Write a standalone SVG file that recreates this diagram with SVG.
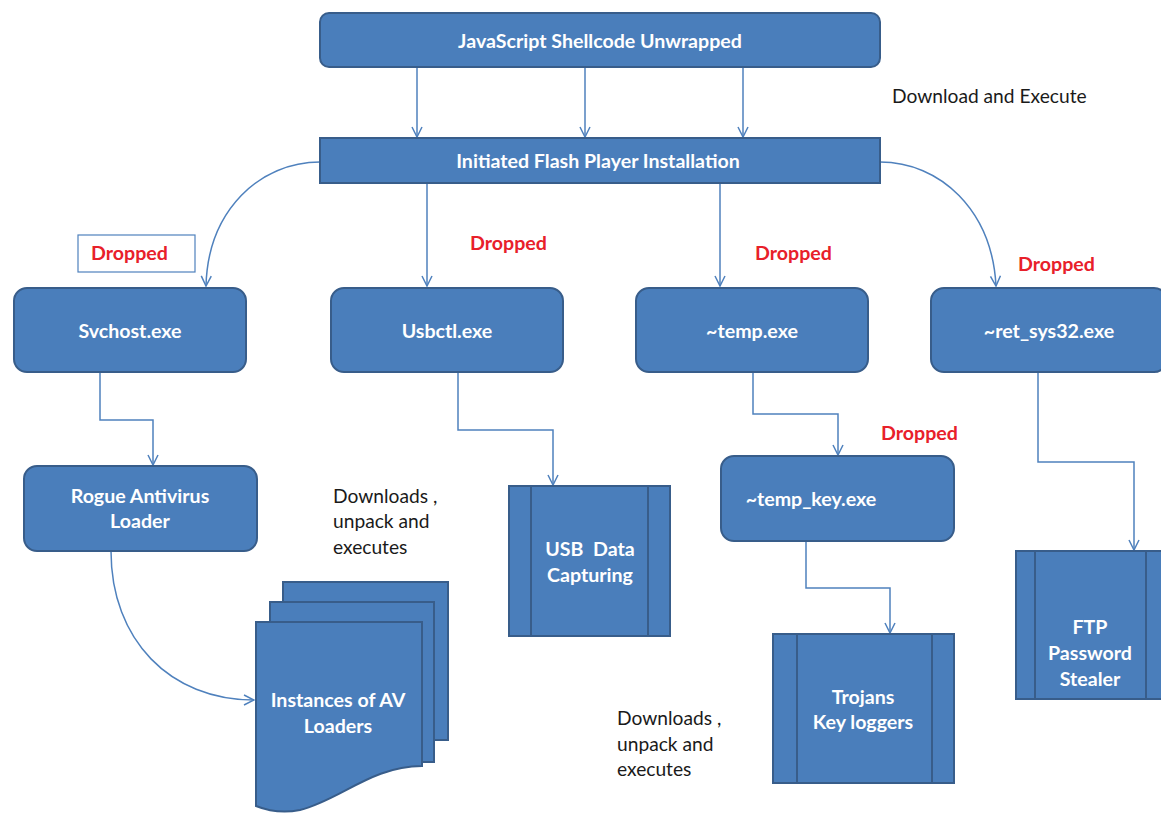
<svg xmlns="http://www.w3.org/2000/svg" width="1161" height="814" viewBox="0 0 1161 814">
<defs>
<marker id="arr" viewBox="0 0 12 12" refX="11" refY="6" markerWidth="12" markerHeight="12" markerUnits="userSpaceOnUse" orient="auto">
<path d="M1,1 L11,6 L1,11" fill="none" stroke="#4F81BD" stroke-width="1.5"/>
</marker>
</defs>
<style>
.box{fill:#4A7EBB;stroke:#385D8A;stroke-width:2}
.ln{fill:none;stroke:#385D8A;stroke-width:2}
.t{font-family:Lato,"Liberation Sans",sans-serif;font-weight:bold;font-size:19.6px;fill:#FFFFFF;text-anchor:middle}
.lbl{font-family:Lato,"Liberation Sans",sans-serif;font-size:19.2px;fill:#1a1a1a}
.drop{font-family:Lato,"Liberation Sans",sans-serif;font-weight:bold;font-size:19.6px;fill:#E8202A}
.c{fill:none;stroke:#4F81BD;stroke-width:1.5;marker-end:url(#arr)}
</style>
<rect width="1161" height="814" fill="#FFFFFF"/>

<g id="connectors">
<path class="c" d="M417,67 V137"/>
<path class="c" d="M585,67 V137"/>
<path class="c" d="M743,67 V137"/>
<path class="c" d="M320,162 C260,162 208,210 206,286"/>
<path class="c" d="M880,162 C940,162 992,210 996,286"/>
<path class="c" d="M427,183 V286"/>
<path class="c" d="M720,183 V286"/>
<path class="c" d="M100,372 V420 H153 V465"/>
<path class="c" d="M458,372 V430 H553 V485"/>
<path class="c" d="M753,372 V414 H838 V455"/>
<path class="c" d="M1038,372 V462 H1134 V550"/>
<path class="c" d="M806,541 V588 H890 V633"/>
<path class="c" d="M111,551 C111,640 170,700 254,700"/>
</g>

<g id="node-js">
<rect class="box" x="320" y="13" width="560" height="54" rx="9"/>
<text class="t" x="600" y="48">JavaScript Shellcode Unwrapped</text>
</g>
<g id="node-flash">
<rect class="box" x="320" y="138" width="560" height="45"/>
<text class="t" x="598" y="168">Initiated Flash Player Installation</text>
</g>
<g id="label-download">
<text class="lbl" x="892" y="103">Download and Execute</text>
</g>

<g id="drop1">
<rect x="78" y="235" width="117" height="37" fill="#FFFFFF" stroke="#4F81BD" stroke-width="1.2"/>
<text class="drop" x="91" y="260">Dropped</text>
</g>
<g id="drop2"><text class="drop" x="470" y="250">Dropped</text></g>
<g id="drop3"><text class="drop" x="755" y="260">Dropped</text></g>
<g id="drop4"><text class="drop" x="1018" y="271">Dropped</text></g>
<g id="drop5"><text class="drop" x="881" y="440">Dropped</text></g>

<g id="node-svchost">
<rect class="box" x="14" y="288" width="232" height="84" rx="13"/>
<text class="t" x="130" y="338">Svchost.exe</text>
</g>
<g id="node-usbctl">
<rect class="box" x="331" y="288" width="232" height="84" rx="13"/>
<text class="t" x="447" y="338">Usbctl.exe</text>
</g>
<g id="node-temp">
<rect class="box" x="636" y="288" width="232" height="84" rx="13"/>
<text class="t" x="752" y="338">~temp.exe</text>
</g>
<g id="node-ret">
<rect class="box" x="931" y="288" width="236" height="84" rx="13"/>
<text class="t" x="1049" y="338">~ret_sys32.exe</text>
</g>

<g id="node-rogue">
<rect class="box" x="24" y="466" width="233" height="85" rx="13"/>
<text class="t" x="140" y="503">Rogue Antivirus</text>
<text class="t" x="140" y="528">Loader</text>
</g>

<g id="label-downloads1">
<text class="lbl" x="333" y="503">Downloads ,</text>
<text class="lbl" x="333" y="528">unpack and</text>
<text class="lbl" x="333" y="554">executes</text>
</g>

<g id="node-instances">
<rect class="box" x="283" y="582" width="165" height="158"/>
<rect class="box" x="270" y="602" width="164" height="160"/>
<path class="box" d="M256,622 H422 V766 C372,766 340,800 300,810 C280,814 266,810 256,806 Z"/>
<text class="t" x="338" y="707">Instances of AV</text>
<text class="t" x="338" y="733">Loaders</text>
</g>

<g id="node-usb">
<rect class="box" x="509" y="486" width="161" height="150"/>
<line class="ln" x1="531" y1="486" x2="531" y2="636"/>
<line class="ln" x1="648" y1="486" x2="648" y2="636"/>
<text class="t" x="590" y="556" xml:space="preserve">USB  Data</text>
<text class="t" x="590" y="582">Capturing</text>
</g>

<g id="node-tempkey">
<rect class="box" x="721" y="456" width="233" height="85" rx="13"/>
<text class="t" x="811" y="506">~temp_key.exe</text>
</g>

<g id="node-trojans">
<rect class="box" x="773" y="634" width="181" height="149"/>
<line class="ln" x1="797" y1="634" x2="797" y2="783"/>
<line class="ln" x1="932" y1="634" x2="932" y2="783"/>
<text class="t" x="863" y="704">Trojans</text>
<text class="t" x="863" y="729">Key loggers</text>
</g>

<g id="node-ftp">
<rect class="box" x="1016" y="551" width="148" height="148"/>
<line class="ln" x1="1035" y1="551" x2="1035" y2="699"/>
<line class="ln" x1="1146" y1="551" x2="1146" y2="699"/>
<text class="t" x="1090" y="634">FTP</text>
<text class="t" x="1090" y="660">Password</text>
<text class="t" x="1090" y="686">Stealer</text>
</g>

<g id="label-downloads2">
<text class="lbl" x="617" y="725">Downloads ,</text>
<text class="lbl" x="617" y="751">unpack and</text>
<text class="lbl" x="617" y="776">executes</text>
</g>
</svg>
